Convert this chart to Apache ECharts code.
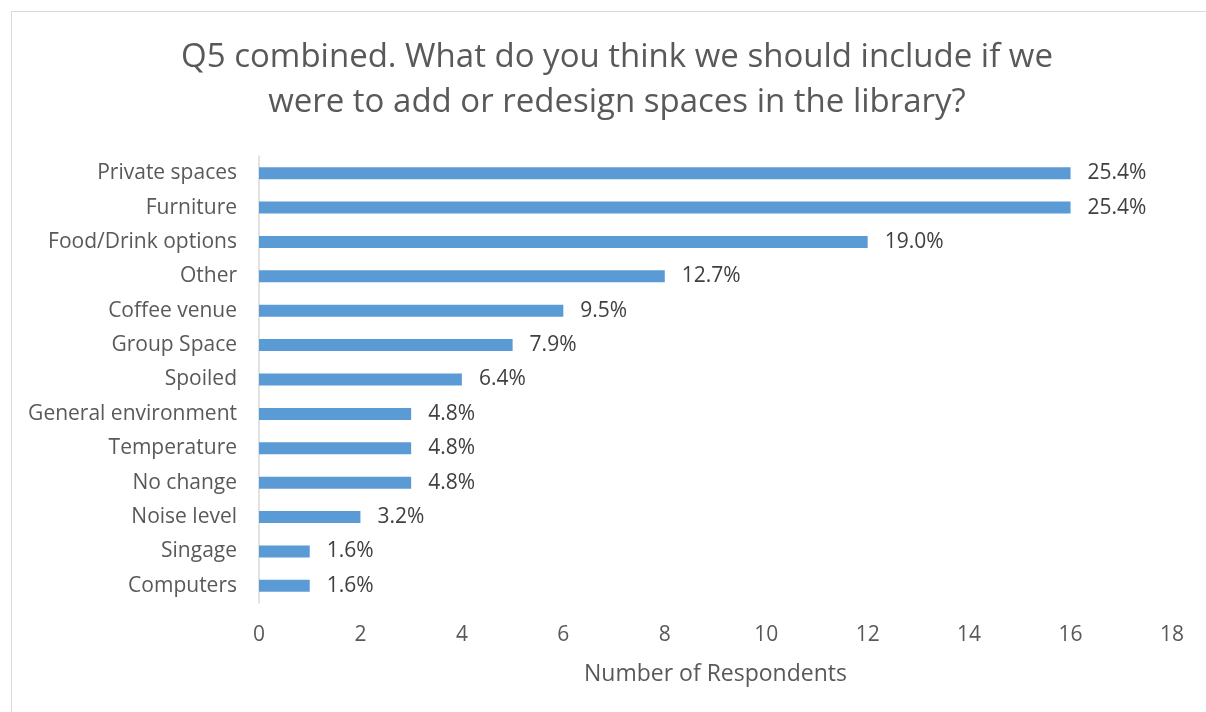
<!DOCTYPE html>
<html>
<head>
<meta charset="utf-8">
<script src="https://cdn.jsdelivr.net/npm/echarts@6/dist/echarts.min.js"></script>
<style>
  html, body { margin: 0; padding: 0; background: #fff; overflow: hidden; }
  #frame { position: absolute; left: 11px; top: 11px; width: 1220px; height: 720px;
           border: 1px solid #d9d9d9; box-sizing: border-box; }
  #chart { position: absolute; left: 0; top: 0; width: 1206px; height: 712px; }
</style>
</head>
<body>
<div id="frame"></div>
<div id="chart"></div>
<script>
// Survey responses, listed top to bottom as shown
const categories = [
  'Private spaces', 'Furniture', 'Food/Drink options', 'Other', 'Coffee venue',
  'Group Space', 'Spoiled', 'General environment', 'Temperature', 'No change',
  'Noise level', 'Singage', 'Computers'
];
const respondents = [16, 16, 12, 8, 6, 5, 4, 3, 3, 3, 2, 1, 1];
const shareLabels = [
  '25.4%', '25.4%', '19.0%', '12.7%', '9.5%', '7.9%', '6.4%',
  '4.8%', '4.8%', '4.8%', '3.2%', '1.6%', '1.6%'
];
const xTicks = [0, 2, 4, 6, 8, 10, 12, 14, 16, 18];

const font = '"Open Sans", "Noto Sans", sans-serif';
const chart = echarts.init(document.getElementById('chart'));

chart.setOption({
  animation: false,
  backgroundColor: 'transparent',
  title: {
    text: 'Q5 combined. What do you think we should include if we\nwere to add or redesign spaces in the library?',
    left: 612,
    top: 30,
    textAlign: 'center',
    textStyle: {
      fontFamily: font, fontSize: 33, fontWeight: 'normal',
      color: '#595959', lineHeight: 45
    }
  },
  grid: { left: 259, right: 34, top: 156, bottom: 109, containLabel: false },
  xAxis: {
    type: 'value',
    min: xTicks[0],
    max: xTicks[xTicks.length - 1],
    interval: 2,
    axisLine: { show: false },
    axisTick: { show: false },
    splitLine: { show: false },
    axisLabel: { color: '#595959', fontFamily: font, fontSize: 21, margin: 22 },
    name: 'Number of Respondents',
    nameLocation: 'middle',
    nameGap: 60,
    nameTextStyle: { color: '#595959', fontFamily: font, fontSize: 23 }
  },
  yAxis: {
    type: 'category',
    data: categories,
    inverse: true,
    axisLine: { show: true, lineStyle: { color: '#d9d9d9', width: 1.5 } },
    axisTick: { show: false },
    axisLabel: {
      color: '#595959', fontFamily: font, fontSize: 21, margin: 22,
      padding: [3, 0, 0, 0]
    }
  },
  series: [{
    type: 'bar',
    data: respondents,
    barWidth: 12,
    itemStyle: { color: '#5b9bd5' },
    label: {
      show: true,
      position: 'right',
      distance: 17,
      color: '#404040',
      fontFamily: font,
      fontSize: 21,
      padding: [3, 0, 0, 0],
      formatter: p => shareLabels[p.dataIndex]
    }
  }]
});
</script>
</body>
</html>
